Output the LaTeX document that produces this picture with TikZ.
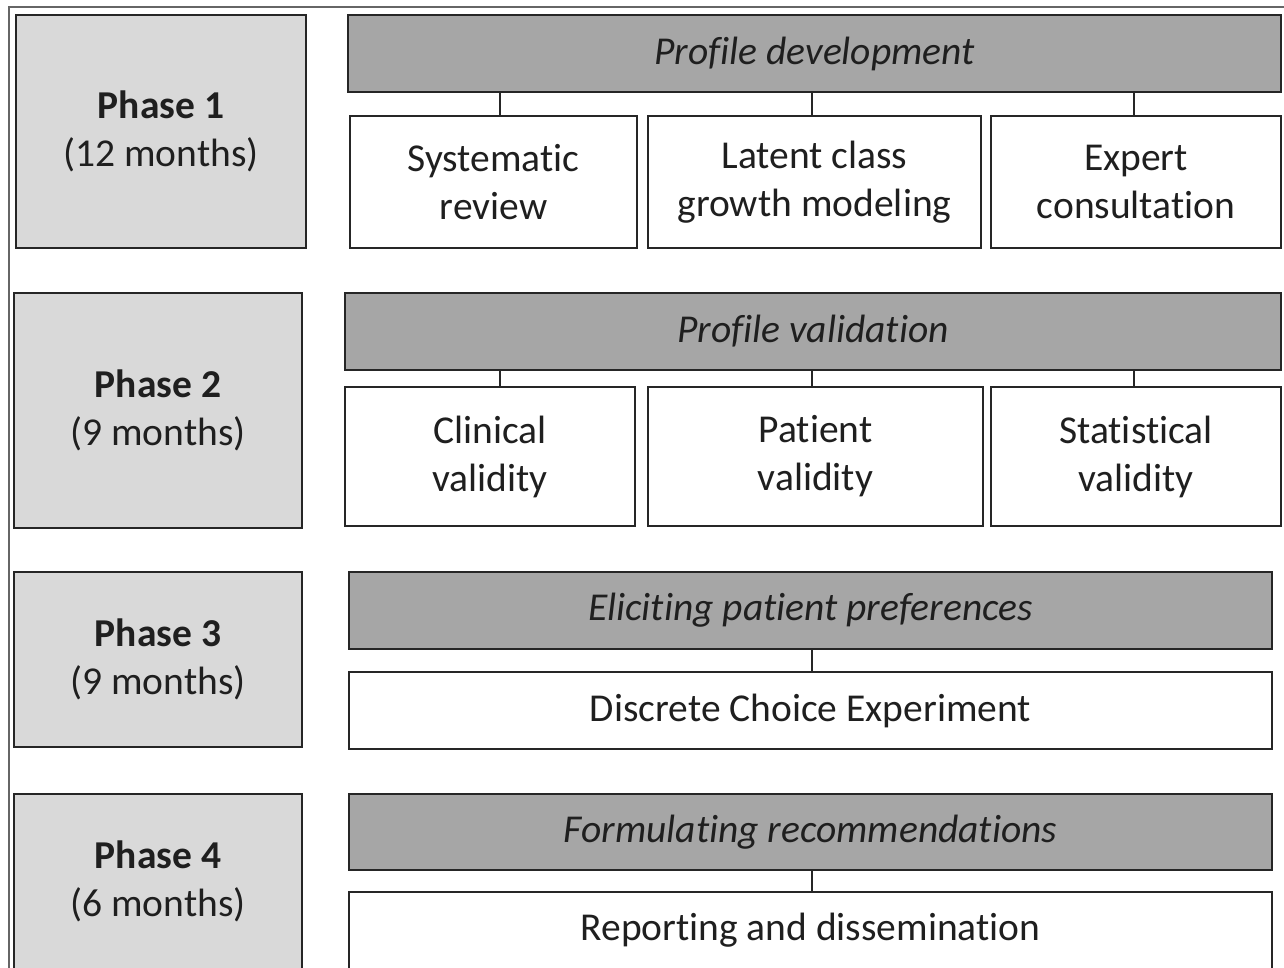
\documentclass[tikz,border=0pt]{standalone}
\usepackage{fontspec}
\setmainfont{Carlito}[Ligatures=NoCommon]
\begin{document}
\begin{tikzpicture}[x=1pt,y=-1pt,
  every node/.style={font=\fontsize{39.5}{48}\selectfont, text=black!88, align=center, inner sep=0pt},
  phasebox/.style={draw=black!85, line width=1.6pt, fill=black!15, rectangle},
  headbox/.style={draw=black!85, line width=1.6pt, fill=black!35, rectangle, font=\fontsize{39.5}{48}\selectfont\itshape},
  subbox/.style={draw=black!85, line width=1.6pt, fill=white, rectangle},
  conn/.style={draw=black!85, line width=1.4pt}]
\useasboundingbox (0,0) rectangle (1284,967);
\clip (0,0) rectangle (1284,967);
\fill[white] (0,0) rectangle (1284,967);
\draw[black!60, line width=2pt] (9,980) -- (9,7) -- (1290,7);

% Row 1
\node[phasebox, minimum width=290pt, minimum height=233pt] (p1) at (161,131.5) {\textbf{Phase 1}\\(12 months)};
\node[headbox, minimum width=933pt, minimum height=77pt] (h1) at (814.5,53.5) {Profile development};
\node[subbox, minimum width=287pt, minimum height=132pt] (a1) at (493.5,182) {Systematic\\review};
\node[subbox, minimum width=333pt, minimum height=132pt] (b1) at (814.5,182) {Latent class\\growth modeling};
\node[subbox, minimum width=290pt, minimum height=132pt] (c1) at (1136,182) {Expert\\consultation};
\draw[conn] ([xshift=6.5pt]a1.north) -- ([xshift=6.5pt]a1.north |- h1.south);
\draw[conn] ([xshift=-2.5pt]b1.north) -- ([xshift=-2.5pt]b1.north |- h1.south);
\draw[conn] ([xshift=-2pt]c1.north) -- ([xshift=-2pt]c1.north |- h1.south);

% Row 2
\node[phasebox, minimum width=288pt, minimum height=235pt] (p2) at (158,410.5) {\textbf{Phase 2}\\(9 months)};
\node[headbox, minimum width=936pt, minimum height=77pt] (h2) at (813,331.5) {Profile validation};
\node[subbox, minimum width=290pt, minimum height=139pt] (a2) at (490,456.5) {Clinical\\validity};
\node[subbox, minimum width=335pt, minimum height=139pt] (b2) at (815.5,456.5) {Patient\\validity};
\node[subbox, minimum width=290pt, minimum height=139pt] (c2) at (1136,456.5) {Statistical\\validity};
\draw[conn] ([xshift=10pt]a2.north) -- ([xshift=10pt]a2.north |- h2.south);
\draw[conn] ([xshift=-3.5pt]b2.north) -- ([xshift=-3.5pt]b2.north |- h2.south);
\draw[conn] ([xshift=-2pt]c2.north) -- ([xshift=-2pt]c2.north |- h2.south);

% Row 3
\node[phasebox, minimum width=288pt, minimum height=175pt] (p3) at (158,659.5) {\textbf{Phase 3}\\(9 months)};
\node[headbox, minimum width=923pt, minimum height=77pt] (h3) at (810.5,610.5) {Eliciting patient preferences};
\node[subbox, minimum width=923pt, minimum height=77pt] (d3) at (810.5,710.5) {Discrete Choice Experiment};
\draw[conn] ([xshift=1.5pt]h3.south) -- ([xshift=1.5pt]d3.north);

% Row 4
\node[phasebox, minimum width=288pt, minimum height=175pt] (p4) at (158,881.5) {\textbf{Phase 4}\\(6 months)};
\node[headbox, minimum width=923pt, minimum height=76pt] (h4) at (810.5,832) {Formulating recommendations};
\node[subbox, minimum width=923pt, minimum height=77pt] (d4) at (810.5,930.5) {Reporting and dissemination};
\draw[conn] ([xshift=1.5pt]h4.south) -- ([xshift=1.5pt]d4.north);
\end{tikzpicture}
\end{document}
